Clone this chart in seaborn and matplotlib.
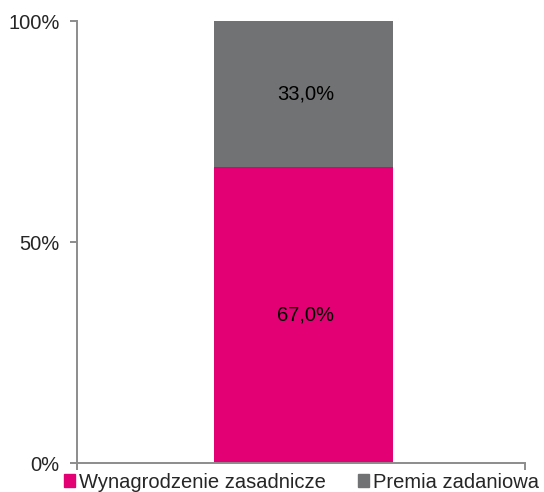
import matplotlib
matplotlib.use("Agg")
import matplotlib.pyplot as plt
import matplotlib.patches as mpatches
import seaborn as sns
import pandas as pd

# data
categories = ["Płaca"]
series_names = ["Wynagrodzenie zasadnicze", "Premia zadaniowa"]
base_pct = [67.0]
bonus_pct = [33.0]
colors = ["#E20074", "#717273"]
ytick_vals = [0, 50, 100]
ytick_labels = ["0%", "50%", "100%"]

sns.set_style("white")
plt.rcParams["font.family"] = ["Liberation Sans", "DejaVu Sans"]

df = pd.DataFrame({
    "cat": categories,
    "base": base_pct,
    "total": [b + p for b, p in zip(base_pct, bonus_pct)],
})

fig = plt.figure(figsize=(5.44, 4.92), dpi=100)
ax = fig.add_axes([0.1415, 0.0589, 0.8235, 0.8983])

# stacked: draw totals in gray, then base on top of it
sns.barplot(data=df, x="cat", y="total", color=colors[1], width=0.4,
            saturation=1, linewidth=0, ax=ax)
sns.barplot(data=df, x="cat", y="base", color=colors[0], width=0.4,
            saturation=1, linewidth=0, ax=ax)

for i, (b, p) in enumerate(zip(base_pct, bonus_pct)):
    ax.text(i + 0.005, b / 2, f"{b:.1f}%".replace(".", ","), ha="center",
            va="center", fontsize=14.5, color="black")
    ax.text(i + 0.005, b + p / 2, f"{p:.1f}%".replace(".", ","), ha="center",
            va="center", fontsize=14.5, color="black")

ax.set_xlim(-0.505, 0.495)
ax.set_ylim(0, 100)
ax.set_yticks(ytick_vals)
ax.set_yticklabels(ytick_labels, fontsize=14.5)
ax.set_xticks([-0.505, 0.495])
ax.set_xticklabels(["", ""])
ax.set_xlabel("")
ax.set_ylabel("")

for side in ["top", "right"]:
    ax.spines[side].set_visible(False)
for side in ["left", "bottom"]:
    ax.spines[side].set_color("#8c8c8c")
    ax.spines[side].set_linewidth(1.4)
ax.tick_params(axis="both", length=5, color="#8c8c8c", width=1.4, pad=7.5,
               left=True, bottom=True, direction="out")

handles = [mpatches.Patch(color=c, label=n) for c, n in zip(colors, series_names)]
fig.legend(handles=handles, loc="center left", bbox_to_anchor=(0.118, 0.02),
           ncol=2, frameon=False, fontsize=14.5, handlelength=0.55,
           handleheight=0.55, handletextpad=0.2, columnspacing=1.6,
           borderaxespad=0, borderpad=0)

plt.savefig("out.png", dpi=100, facecolor="white")
